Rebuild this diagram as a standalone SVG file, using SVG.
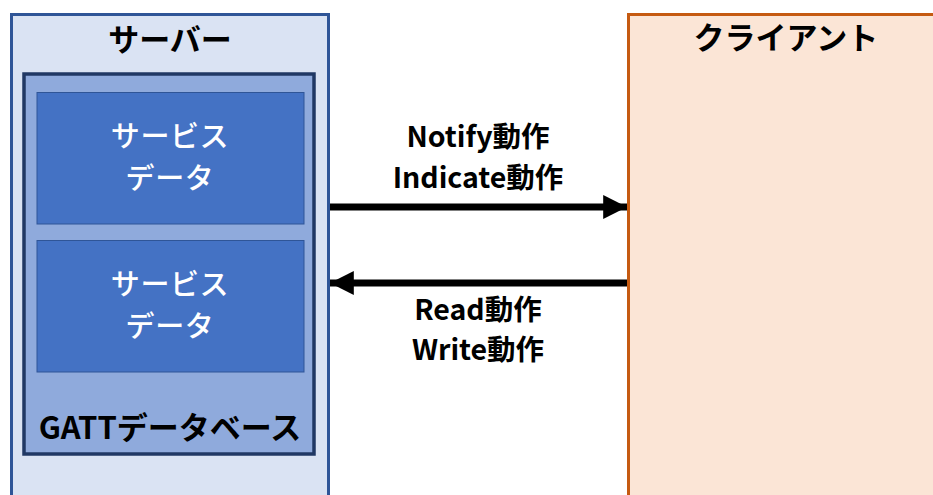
<svg xmlns="http://www.w3.org/2000/svg" width="933" height="495" viewBox="0 0 933 495">
<defs>
<style>
.t{font-family:"Noto Sans CJK JP","Noto Sans",sans-serif;font-weight:bold;text-anchor:middle}
.blk{fill:#000;font-size:31px}
.wht{fill:#fff;font-size:29px;font-weight:500;letter-spacing:0.6px}
.lbl{fill:#000;font-size:28.5px}
</style>
<marker id="ah" viewBox="0 0 10 10" refX="10" refY="5" markerWidth="3.4" markerHeight="3.4" orient="auto" markerUnits="strokeWidth">
<path d="M0,0 L10,5 L0,10 z" fill="#000"/>
</marker>
</defs>
<rect width="933" height="495" fill="#fff"/>
<g id="server">
<rect x="11.5" y="14.5" width="317" height="490" fill="#DAE3F3" stroke="#2F5597" stroke-width="3"/>
<text class="t blk" x="170" y="51">サーバー</text>
</g>
<g id="gatt">
<rect x="24" y="74" width="290" height="380" fill="#8FAADC" stroke="#203864" stroke-width="3.5"/>
<text class="t blk" x="170" y="439">GATTデータベース</text>
</g>
<g id="service1">
<rect x="37" y="92.5" width="267" height="131.5" fill="#4472C4" stroke="#2F5597" stroke-width="1"/>
<text class="t wht"><tspan x="170" y="147">サービス</tspan><tspan x="170" y="188.5">データ</tspan></text>
</g>
<g id="service2">
<rect x="37" y="240.5" width="267" height="131.5" fill="#4472C4" stroke="#2F5597" stroke-width="1"/>
<text class="t wht"><tspan x="170" y="295">サービス</tspan><tspan x="170" y="336.5">データ</tspan></text>
</g>
<g id="client">
<rect x="628.5" y="14.5" width="320" height="490" fill="#FBE5D6" stroke="#C55A11" stroke-width="3"/>
<text class="t blk" x="786" y="49">クライアント</text>
</g>
<g id="connectors">
<line x1="330" y1="207" x2="627" y2="207" stroke="#000" stroke-width="7" marker-end="url(#ah)"/>
<line x1="627" y1="283" x2="330" y2="283" stroke="#000" stroke-width="7" marker-end="url(#ah)"/>
<text class="t lbl"><tspan x="478" y="147">Notify動作</tspan><tspan x="478" y="188">Indicate動作</tspan></text>
<text class="t lbl"><tspan x="478" y="320">Read動作</tspan><tspan x="478" y="360">Write動作</tspan></text>
</g>
</svg>
